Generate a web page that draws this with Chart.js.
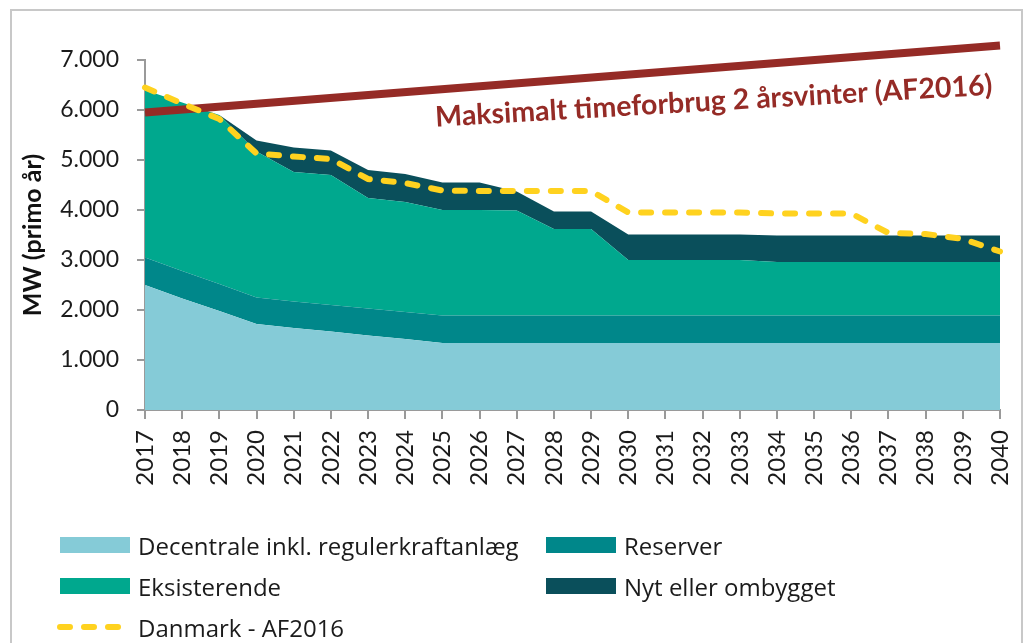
<!DOCTYPE html>
<html>
<head>
<meta charset="utf-8">
<script src="https://cdn.jsdelivr.net/npm/chart.js@4.4.0/dist/chart.umd.min.js"></script>
<style>
  body { margin: 0; background: #fff; font-family: "Open Sans", sans-serif; }
  #wrap { position: relative; width: 1027px; height: 643px; overflow: hidden; }
  #frame { position: absolute; left: 10px; top: 9px; width: 1013px; height: 700px; border: 2px solid #c8c8c8; box-sizing: border-box; }
  #chart { position: absolute; left: 0; top: 0; }
  .item { position: absolute; height: 30px; display: flex; align-items: center; font-size: 24px; color: #1b1b1b; white-space: nowrap; }
  .box { width: 70px; height: 16px; margin-right: 8px; flex: none; }
  .item svg { margin-right: 8px; flex: none; }
</style>
</head>
<body>
<div id="wrap">
  <div id="frame"></div>
  <canvas id="chart" width="1027" height="643"></canvas>
  <div id="legend"></div>
</div>
<script>
// years on the x axis
const years = ['2017','2018','2019','2020','2021','2022','2023','2024','2025','2026','2027','2028',
               '2029','2030','2031','2032','2033','2034','2035','2036','2037','2038','2039','2040'];

// stacked capacity (MW, primo år)
const decentrale   = [2500,2230,1980,1720,1640,1570,1490,1420,1340,1340,1340,1340,1340,1340,1340,1340,1340,1340,1340,1340,1340,1340,1340,1340];
const reserver     = [550,550,540,530,530,530,540,540,550,550,550,550,550,550,550,550,550,550,550,550,550,550,550,550];
const eksisterende = [3350,3370,3380,2920,2590,2600,2210,2200,2110,2110,2100,1730,1730,1110,1110,1110,1110,1070,1070,1070,1070,1070,1070,1070];
const nyt          = [0,0,0,220,490,490,560,560,550,550,380,350,350,510,510,510,510,530,530,530,530,530,530,530];

// demand lines
const danmarkAF2016 = [6450,6130,5820,5130,5070,5020,4620,4540,4390,4380,4380,4380,4380,3950,3950,3950,3950,3930,3930,3930,3540,3520,3420,3170];
const maksTimeforbrug = [5950,null,null,null,null,null,null,null,null,null,null,null,null,null,null,null,null,null,null,null,null,null,null,7290];

const yTicks = [0,1000,2000,3000,4000,5000,6000,7000];

const colors = {
  decentrale: '#85cbd7',
  reserver: '#00878a',
  eksisterende: '#00a88e',
  nyt: '#0a4f5b',
  danmark: '#ffd21f',
  maks: '#952b26'
};

function fmt(v) {
  return String(v).replace(/\B(?=(\d{3})+(?!\d))/g, '.');
}

// red annotation text along the max line
const maxLabel = {
  id: 'maxLabel',
  afterDatasetsDraw(chart) {
    const ctx = chart.ctx;
    const x = chart.scales.x.getPixelForValue(15.3);
    const y = chart.scales.y.getPixelForValue(6170);
    ctx.save();
    ctx.translate(x, y);
    ctx.rotate(-3.3 * Math.PI / 180);
    ctx.font = 'bold 28.5px Lato';
    ctx.fillStyle = colors.maks;
    ctx.textAlign = 'center';
    ctx.textBaseline = 'middle';
    ctx.fillText('Maksimalt timeforbrug 2 årsvinter (AF2016)', 0, 0);
    ctx.restore();
  }
};

function area(label, data, color, fill) {
  return {
    label: label, data: data, backgroundColor: color, borderWidth: 0,
    pointRadius: 0, fill: fill, stack: 'cap', order: 2, tension: 0
  };
}

const axisGray = '#9a9a9a';

new Chart(document.getElementById('chart'), {
  type: 'line',
  data: {
    labels: years,
    datasets: [
      area('Decentrale inkl. regulerkraftanlæg', decentrale, colors.decentrale, 'origin'),
      area('Reserver', reserver, colors.reserver, '-1'),
      area('Eksisterende', eksisterende, colors.eksisterende, '-1'),
      area('Nyt eller ombygget', nyt, colors.nyt, '-1'),
      {
        label: 'Maksimalt timeforbrug 2 årsvinter (AF2016)', data: maksTimeforbrug,
        borderColor: colors.maks, borderWidth: 8, pointRadius: 0, fill: false,
        spanGaps: true, stack: 'maks', order: 1, clip: false
      },
      {
        label: 'Danmark - AF2016', data: danmarkAF2016,
        borderColor: colors.danmark, borderWidth: 6, borderDash: [10, 14], borderCapStyle: 'round',
        pointRadius: 0, fill: false, stack: 'dk', order: 0, tension: 0, clip: false
      }
    ]
  },
  options: {
    responsive: false,
    animation: false,
    devicePixelRatio: 1,
    layout: { padding: { left: 12, top: 60, right: 27, bottom: 0 } },
    plugins: { legend: { display: false }, tooltip: { enabled: false } },
    scales: {
      x: {
        grid: { drawOnChartArea: false, drawTicks: true, tickLength: 9, color: axisGray, lineWidth: 2 },
        border: { color: axisGray, width: 2 },
        ticks: {
          autoSkip: false, maxRotation: 90, minRotation: 90, padding: 11,
          color: '#1b1b1b', font: { family: 'Lato', size: 24 }
        },
        afterFit(scale) {
          scale.height = 233;
          scale.paddingLeft = 0;
          scale.paddingRight = 0;
        }
      },
      y: {
        stacked: true,
        min: 0, max: 7000,
        afterBuildTicks(scale) { scale.ticks = yTicks.map(v => ({ value: v })); },
        grid: { drawOnChartArea: false, drawTicks: true, tickLength: 8, color: axisGray, lineWidth: 2 },
        border: { color: axisGray, width: 2 },
        ticks: {
          padding: 18, color: '#1b1b1b', font: { family: 'Lato', size: 23 },
          callback: v => fmt(v)
        },
        title: {
          display: true, text: 'MW (primo år)', color: '#111',
          font: { family: 'Lato', size: 25, weight: 'bold' }, padding: { top: 6, bottom: 0 }
        },
        afterFit(scale) { scale.width = 133; }
      }
    }
  },
  plugins: [maxLabel]
});

// legend in two columns, as in the source figure
const legendItems = [
  { text: 'Decentrale inkl. regulerkraftanlæg', color: colors.decentrale, x: 60, y: 545 },
  { text: 'Reserver', color: colors.reserver, x: 546, y: 545 },
  { text: 'Eksisterende', color: colors.eksisterende, x: 60, y: 586 },
  { text: 'Nyt eller ombygget', color: colors.nyt, x: 546, y: 586 },
  { text: 'Danmark - AF2016', color: colors.danmark, x: 57, y: 627, dashed: true }
];
const legend = document.getElementById('legend');
legendItems.forEach(it => {
  const d = document.createElement('div');
  d.className = 'item';
  d.style.left = it.x + 'px';
  d.style.top = (it.y - 15) + 'px';
  let mark;
  if (it.dashed) {
    mark = '<svg width="73" height="16"><line x1="3" y1="8" x2="66" y2="8" stroke="' + it.color +
      '" stroke-width="6" stroke-linecap="round" stroke-dasharray="10 14"/></svg>';
  } else {
    mark = '<div class="box" style="background:' + it.color + '"></div>';
  }
  d.innerHTML = mark + '<span>' + it.text + '</span>';
  legend.appendChild(d);
});
</script>
</body>
</html>
